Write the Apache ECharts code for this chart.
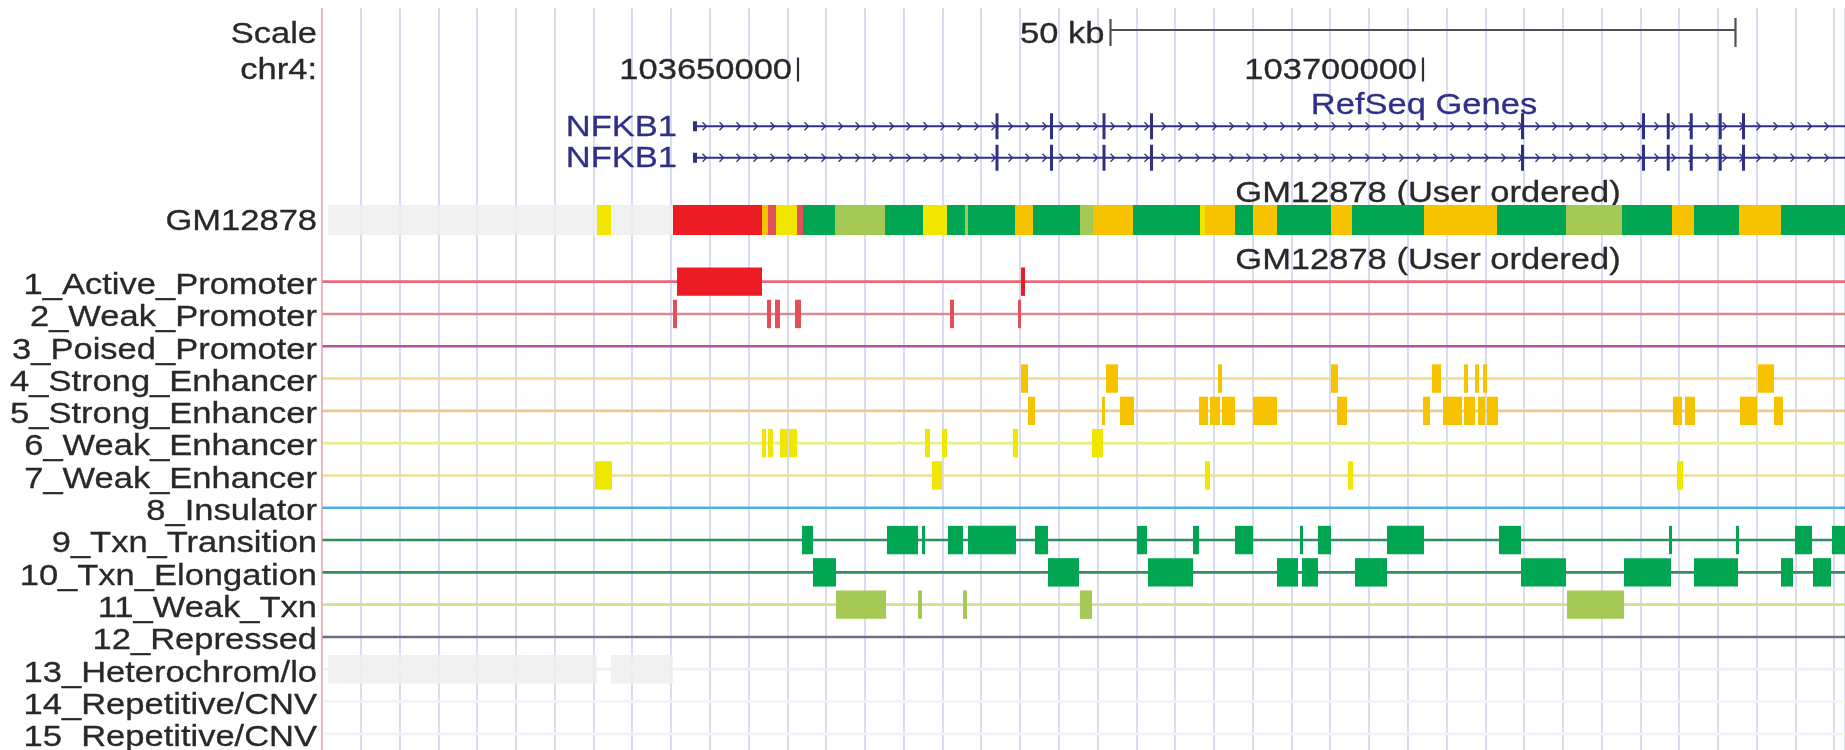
<!DOCTYPE html>
<html>
<head>
<meta charset="utf-8">
<script src="https://cdn.jsdelivr.net/npm/echarts@6/dist/echarts.min.js"></script>
<style>
  html, body { margin: 0; padding: 0; background: #ffffff; }
  #chart { width: 1845px; height: 750px; }
</style>
</head>
<body>
<div id="chart"></div>
<script>
// ---- Browser window: chr4 (hg18) ----
const viewStart = 103611920;
const viewEnd = 103733760;
const guideSpacingBp = 3102;          // spacing of the light vertical guidelines

// ---- Ruler ----
const rulerLabels = ['Scale', 'chr4:'];
const rulerTicks = [103650000, 103700000];
const scaleBar = [103675000, 103725000];
const scaleBarLabel = '50 kb';

// ---- RefSeq Genes ----
const geneTrackTitle = 'RefSeq Genes';
const geneNames = ['NFKB1', 'NFKB1'];
const geneTxStart = 103641600;
const geneTxEnd = 103757500;
const geneUtrExon = [103641600, 103641920];
const geneExonStarts = [103665800, 103670160, 103674360, 103678160, 103707840, 103717520, 103719500, 103721340, 103723660, 103725520];
const geneExonEnds   = [103666040, 103670400, 103674600, 103678400, 103708080, 103717760, 103719740, 103721580, 103723900, 103725760];

// ---- ChromHMM states ----
const cellLine = 'GM12878';
const trackTitle = 'GM12878 (User ordered)';
const stateNames = [
  '1_Active_Promoter', '2_Weak_Promoter', '3_Poised_Promoter', '4_Strong_Enhancer',
  '5_Strong_Enhancer', '6_Weak_Enhancer', '7_Weak_Enhancer', '8_Insulator',
  '9_Txn_Transition', '10_Txn_Elongation', '11_Weak_Txn', '12_Repressed',
  '13_Heterochrom/lo', '14_Repetitive/CNV', '15_Repetitive/CNV'
];

// combined track: [start, end, state]
const combinedSegments = [
  [103612400, 103633920, 13], [103633920, 103635040, 7], [103635040, 103640000, 13],
  [103640000, 103647120, 1], [103647120, 103647600, 5], [103647600, 103648240, 2],
  [103648240, 103649920, 6], [103649920, 103650400, 2], [103650400, 103652960, 9],
  [103652960, 103656960, 11], [103656960, 103660000, 9], [103660000, 103661920, 6],
  [103661920, 103663360, 9], [103663360, 103663600, 11], [103663600, 103667360, 9],
  [103667360, 103668800, 4], [103668800, 103672560, 9], [103672560, 103673600, 11],
  [103673600, 103676800, 4], [103676800, 103682160, 9], [103682160, 103682560, 6],
  [103682560, 103684960, 4], [103684960, 103686400, 9], [103686400, 103688320, 4],
  [103688320, 103692640, 9], [103692640, 103694320, 4], [103694320, 103700080, 9],
  [103700080, 103705920, 4], [103705920, 103711440, 9], [103711440, 103715920, 11],
  [103715920, 103719920, 9], [103719920, 103721680, 4], [103721680, 103725280, 9],
  [103725280, 103728640, 4], [103728640, 103733760, 9]
];

// per-state segments: [start, end]
const activePromoter = [[103640320, 103647120], [103667840, 103668160]];
const weakPromoter = [[103640000, 103640320], [103647520, 103647840], [103648160, 103648560], [103649760, 103650240], [103662160, 103662480], [103667600, 103667840]];
const poisedPromoter = [];
const strongEnhancerA = [[103667840, 103668400], [103674640, 103675600], [103683600, 103683920], [103692640, 103693200], [103700720, 103701440], [103703280, 103703600], [103704160, 103704480], [103704800, 103705120], [103726800, 103728080]];
const strongEnhancerB = [[103668400, 103668960], [103674320, 103674560], [103675760, 103676880], [103682080, 103682800], [103682960, 103683760], [103683920, 103684960], [103686400, 103688320], [103693120, 103693920], [103700000, 103700560], [103701600, 103703120], [103703280, 103704160], [103704400, 103704960], [103705120, 103706000], [103720000, 103720720], [103720960, 103721760], [103725360, 103726720], [103728080, 103728800]];
const weakEnhancerA = [[103647120, 103647440], [103647600, 103648000], [103648560, 103649200], [103649280, 103649920], [103660160, 103660560], [103661520, 103661920], [103667200, 103667600], [103673520, 103674400]];
const weakEnhancerB = [[103633760, 103635120], [103660720, 103661520], [103682560, 103682960], [103694000, 103694400], [103720320, 103720800]];
const insulator = [];
const txnTransition = [[103650320, 103651200], [103657120, 103659600], [103659920, 103660160], [103662000, 103663200], [103663600, 103667440], [103668960, 103670000], [103677120, 103677920], [103681600, 103682080], [103684960, 103686400], [103690160, 103690400], [103691600, 103692640], [103697120, 103700080], [103706080, 103707840], [103719680, 103719920], [103725040, 103725280], [103729760, 103731120], [103732720, 103733760]];
const txnElongation = [[103651200, 103653040], [103670000, 103672480], [103678000, 103681600], [103688320, 103690000], [103690320, 103691600], [103694560, 103697120], [103707840, 103711440], [103716080, 103719840], [103721680, 103725200], [103728640, 103729600], [103731200, 103732640]];
const weakTxn = [[103653040, 103657040], [103659600, 103659920], [103663200, 103663520], [103672560, 103673520], [103711520, 103716080]];
const repressed = [];
const heterochrom = [[103612400, 103633920], [103635040, 103640000]];
const repetitiveA = [];
const repetitiveB = [];

const stateRows = [activePromoter, weakPromoter, poisedPromoter, strongEnhancerA, strongEnhancerB,
  weakEnhancerA, weakEnhancerB, insulator, txnTransition, txnElongation, weakTxn, repressed,
  heterochrom, repetitiveA, repetitiveB];

// ---- styling ----
const FONT = '"Liberation Sans", Arial, Helvetica, sans-serif';
const FONT_SIZE = 30;
const TEXT_SCALE_X = 1.15;
const TEXT_COLOR = '#282828';
const GENE_COLOR = '#2f2f86';
const LEFT = 322;

const stateFill = ['#ec1c24', '#e4505a', '#c8139e', '#f7c200', '#f7c200', '#f0e600', '#f0e600',
  '#0abefe', '#00a651', '#00a651', '#a5c955', '#7f7f7f', '#efefef', '#efefef', '#efefef'];
const rowLineColor = ['#e8697c', '#d98a90', '#b4529a', '#f0dc8a', '#ebc98c', '#eaee86', '#f1dc98',
  '#4eaee0', '#2f8d5e', '#2f8d5e', '#cfe08e', '#6e6e80', '#f0f0f0', '#f3f3f3', '#f3f3f3'];

function clampX(v) { return Math.min(Math.max(v, viewStart), viewEnd); }

function textStyle(text, align, color) {
  const c = color || TEXT_COLOR;
  return { text: text, fill: c, stroke: c, lineWidth: 0.3, fontSize: FONT_SIZE, fontFamily: FONT,
    align: align || 'right', verticalAlign: 'middle' };
}

function labelText(x, y, text, align, color) {
  return { type: 'text', x: x, y: y, scaleX: TEXT_SCALE_X, style: textStyle(text, align, color) };
}

const hiddenX = (g) => ({ gridIndex: g, type: 'value', min: viewStart, max: viewEnd, show: false });

const blockData = [];
stateRows.forEach((segs, row) => segs.forEach(s => blockData.push([s[0], s[1], row])));

const option = {
  animation: false,
  backgroundColor: '#ffffff',
  grid: [
    { left: LEFT, right: 0, top: 8, bottom: 0 },
    { left: LEFT, right: 0, top: 8, height: 82 },
    { left: LEFT, right: 0, top: 110.5, height: 63 },
    { left: LEFT, right: 0, top: 205, height: 30 },
    { left: LEFT, right: 0, top: 265.5, height: 484.5 }
  ],
  xAxis: [
    { gridIndex: 0, type: 'value', min: 0, max: (viewEnd - viewStart) / guideSpacingBp, interval: 1,
      axisLine: { show: false }, axisTick: { show: false }, axisLabel: { show: false },
      splitLine: { show: true, lineStyle: { color: '#d6d8ee', width: 1.8 } } },
    hiddenX(1), hiddenX(2), hiddenX(3), hiddenX(4)
  ],
  yAxis: [
    { gridIndex: 0, type: 'value', min: 0, max: 1, show: false },
    { gridIndex: 1, type: 'category', data: rulerLabels, inverse: true, show: false },
    { gridIndex: 2, type: 'category', data: ['tx1', 'tx2'], inverse: true, show: false },
    { gridIndex: 3, type: 'category', data: [cellLine], show: false },
    { gridIndex: 4, type: 'category', data: stateNames, inverse: true, show: false }
  ],
  graphic: [
    { type: 'line', z: 10, shape: { x1: LEFT, y1: 8, x2: LEFT, y2: 750 }, style: { stroke: '#f0a2ac', lineWidth: 1.3 } },
    { type: 'text', z: 10, x: 1424, y: 106, scaleX: TEXT_SCALE_X, style: textStyle(geneTrackTitle, 'center', GENE_COLOR) },
    { type: 'text', z: 1, x: 1428, y: 194, scaleX: TEXT_SCALE_X, style: textStyle(trackTitle, 'center') },
    { type: 'text', z: 10, x: 1428, y: 261, scaleX: TEXT_SCALE_X, style: textStyle(trackTitle, 'center') }
  ],
  series: [
    // ruler: row labels
    { type: 'custom', xAxisIndex: 1, yAxisIndex: 1, z: 5,
      data: rulerLabels.map((t, i) => [viewStart, viewStart, i]),
      encode: { x: [0, 1], y: 2 },
      renderItem: (params, api) => {
        const row = api.value(2);
        const p = api.coord([viewStart, row]);
        return labelText(p[0] - 5, p[1] + (row === 0 ? 6 : 1), rulerLabels[params.dataIndex]);
      } },
    // ruler: 50 kb scale bar
    { type: 'custom', xAxisIndex: 1, yAxisIndex: 1, z: 5,
      data: [[scaleBar[0], scaleBar[1], 0]],
      encode: { x: [0, 1], y: 2 },
      renderItem: (params, api) => {
        const a = api.coord([api.value(0), 0]);
        const b = api.coord([api.value(1), 0]);
        const y = a[1] + 1.5;
        const st = { stroke: '#505050', lineWidth: 2.2 };
        return { type: 'group', children: [
          { type: 'line', shape: { x1: a[0], y1: y, x2: b[0], y2: y }, style: st },
          { type: 'line', shape: { x1: a[0], y1: y - 11, x2: a[0], y2: y + 16 }, style: st },
          { type: 'line', shape: { x1: b[0], y1: y - 12, x2: b[0], y2: y + 17 }, style: st },
          labelText(a[0] - 6, y + 4.5, scaleBarLabel)
        ] };
      } },
    // ruler: base position ticks
    { type: 'custom', xAxisIndex: 1, yAxisIndex: 1, z: 5,
      data: rulerTicks.map(t => [t, t, 1]),
      encode: { x: [0, 1], y: 2 },
      renderItem: (params, api) => {
        const p = api.coord([api.value(0), 1]);
        return { type: 'group', children: [
          { type: 'line', shape: { x1: p[0], y1: p[1] - 12, x2: p[0], y2: p[1] + 12 }, style: { stroke: '#303030', lineWidth: 2.2 } },
          labelText(p[0] - 6, p[1] + 1.5, String(rulerTicks[params.dataIndex]))
        ] };
      } },
    // RefSeq transcripts
    { type: 'custom', xAxisIndex: 2, yAxisIndex: 2, z: 5,
      data: geneNames.map((g, i) => [geneTxStart, geneTxEnd, i]),
      encode: { x: [0, 1], y: 2 },
      renderItem: (params, api) => {
        const row = api.value(2);
        const y = api.coord([viewStart, row])[1];
        const xs = api.coord([clampX(api.value(0)), row])[0];
        const xe = api.coord([clampX(api.value(1)), row])[0];
        const kids = [];
        kids.push({ type: 'line', shape: { x1: xs, y1: y, x2: xe, y2: y }, style: { stroke: GENE_COLOR, lineWidth: 2 } });
        for (let x = xs + 12; x < xe - 2; x += 17) {
          kids.push({ type: 'polyline', shape: { points: [[x - 2.5, y - 4], [x + 1.5, y], [x - 2.5, y + 4]] },
            style: { stroke: GENE_COLOR, lineWidth: 1.3, fill: null } });
        }
        const u0 = api.coord([geneUtrExon[0], row])[0];
        const u1 = api.coord([geneUtrExon[1], row])[0];
        kids.push({ type: 'rect', shape: { x: u0, y: y - 5, width: Math.max(u1 - u0, 3), height: 10 }, style: { fill: GENE_COLOR } });
        geneExonStarts.forEach((s, k) => {
          const e0 = api.coord([s, row])[0];
          const e1 = api.coord([geneExonEnds[k], row])[0];
          kids.push({ type: 'rect', shape: { x: e0, y: y - 13, width: Math.max(e1 - e0, 2.6), height: 26 }, style: { fill: GENE_COLOR } });
        });
        kids.push(labelText(xs - 16, y + 1, geneNames[params.dataIndex], 'right', GENE_COLOR));
        return { type: 'group', children: kids };
      } },
    // combined state track
    { type: 'custom', xAxisIndex: 3, yAxisIndex: 3, z: 3,
      data: combinedSegments,
      encode: { x: [0, 1] },
      renderItem: (params, api) => {
        const s = api.coord([clampX(api.value(0)), 0]);
        const e = api.coord([clampX(api.value(1)), 0]);
        const h = api.size([0, 1])[1];
        const st = api.value(2);
        return { type: 'rect', shape: { x: s[0], y: s[1] - h / 2, width: Math.max(e[0] - s[0], 2), height: h },
          style: { fill: stateFill[st - 1], opacity: st >= 13 ? 0.85 : 1 } };
      } },
    { type: 'custom', xAxisIndex: 3, yAxisIndex: 3, z: 5,
      data: [[viewStart, viewStart, 0]],
      encode: { x: [0, 1], y: 2 },
      renderItem: (params, api) => {
        const p = api.coord([viewStart, 0]);
        return labelText(p[0] - 5, p[1] + 2, cellLine);
      } },
    // per-state row lines
    { type: 'custom', xAxisIndex: 4, yAxisIndex: 4, z: 2,
      data: stateNames.map((n, i) => [viewStart, viewEnd, i]),
      encode: { x: [0, 1], y: 2 },
      renderItem: (params, api) => {
        const row = api.value(2);
        const a = api.coord([api.value(0), row]);
        const b = api.coord([api.value(1), row]);
        return { type: 'line', shape: { x1: a[0], y1: a[1], x2: b[0], y2: b[1] },
          style: { stroke: rowLineColor[row], lineWidth: 2.6 } };
      } },
    // per-state segments
    { type: 'custom', xAxisIndex: 4, yAxisIndex: 4, z: 3,
      data: blockData,
      encode: { x: [0, 1], y: 2 },
      renderItem: (params, api) => {
        const row = api.value(2);
        const s = api.coord([clampX(api.value(0)), row]);
        const e = api.coord([clampX(api.value(1)), row]);
        const h = api.size([0, 1])[1] * 0.88;
        return { type: 'rect', shape: { x: s[0], y: s[1] - h / 2, width: Math.max(e[0] - s[0], 2.6), height: h },
          style: { fill: stateFill[row], opacity: row >= 12 ? 0.85 : 1 } };
      } },
    // state labels
    { type: 'custom', xAxisIndex: 4, yAxisIndex: 4, z: 5,
      data: stateNames.map((n, i) => [viewStart, viewStart, i]),
      encode: { x: [0, 1], y: 2 },
      renderItem: (params, api) => {
        const p = api.coord([viewStart, api.value(2)]);
        return labelText(p[0] - 5, p[1] + 4, stateNames[params.dataIndex]);
      } }
  ]
};

const chart = echarts.init(document.getElementById('chart'), null, { renderer: 'canvas' });
chart.setOption(option);
</script>
</body>
</html>
